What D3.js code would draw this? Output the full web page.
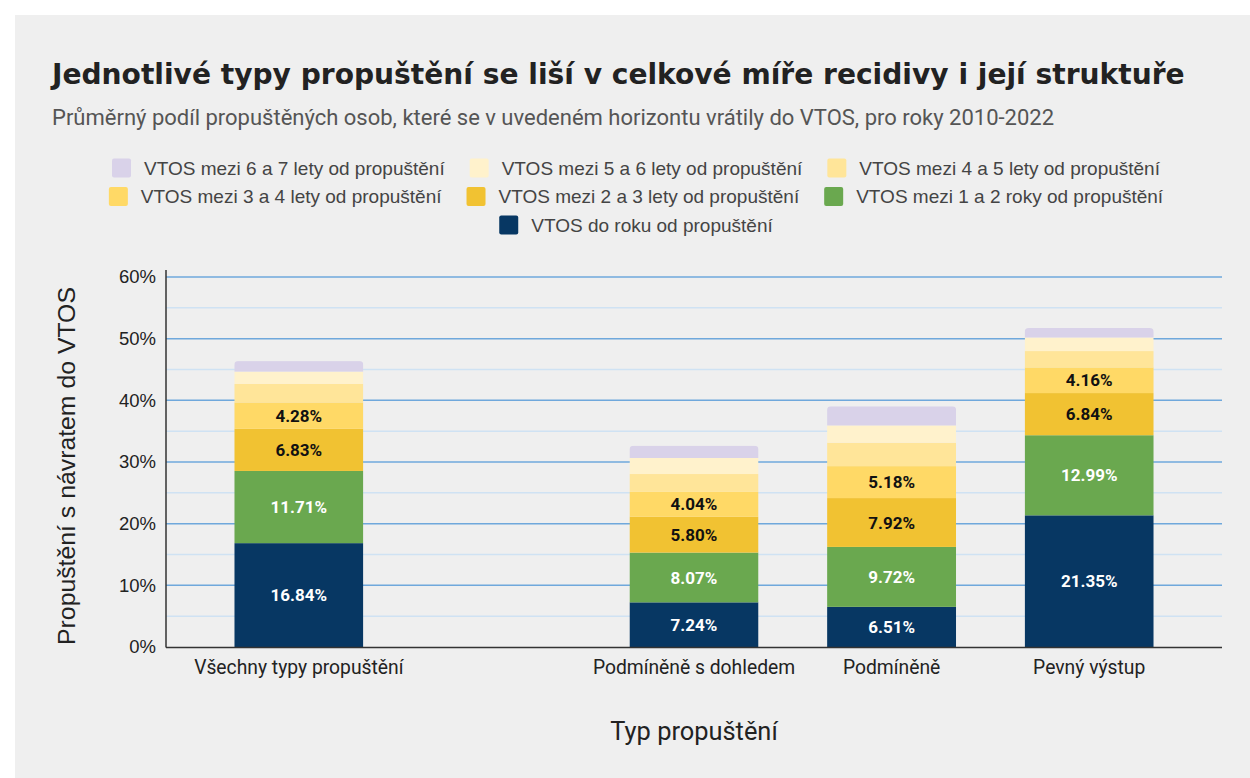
<!DOCTYPE html>
<html>
<head>
<meta charset="utf-8">
<script src="https://cdn.jsdelivr.net/npm/d3@7"></script>
<style>
  body { margin: 0; background: #fff; }
  svg { display: block; font-family: Roboto, "Noto Sans", sans-serif; }
</style>
</head>
<body>
<svg id="chart" width="1250" height="778"></svg>
<script>
// categories (the empty slot is a gap in the original chart)
const categories = ["Všechny typy propuštění", "gap", "Podmíněně s dohledem", "Podmíněně", "Pevný výstup"];
const categoryLabels = ["Všechny typy propuštění", "", "Podmíněně s dohledem", "Podmíněně", "Pevný výstup"];

// series, bottom to top
const seriesNames = [
  "VTOS do roku od propuštění",
  "VTOS mezi 1 a 2 roky od propuštění",
  "VTOS mezi 2 a 3 lety od propuštění",
  "VTOS mezi 3 a 4 lety od propuštění",
  "VTOS mezi 4 a 5 lety od propuštění",
  "VTOS mezi 5 a 6 lety od propuštění",
  "VTOS mezi 6 a 7 lety od propuštění"
];
const doRoku   = [16.84, 0, 7.24, 6.51, 21.35];
const mezi1a2  = [11.71, 0, 8.07, 9.72, 12.99];
const mezi2a3  = [6.83, 0, 5.80, 7.92, 6.84];
const mezi3a4  = [4.28, 0, 4.04, 5.18, 4.16];
const mezi4a5  = [3.0, 0, 2.9, 3.8, 2.65];
const mezi5a6  = [2.0, 0, 2.6, 2.8, 2.2];
const mezi6a7  = [1.7, 0, 2.0, 3.1, 1.55];
const seriesValues = [doRoku, mezi1a2, mezi2a3, mezi3a4, mezi4a5, mezi5a6, mezi6a7];
const labelledSeries = 4; // only the four lowest segments carry labels

const colors = ["#073763", "#6aa84f", "#f1c232", "#ffd966", "#ffe599", "#fff2cc", "#d9d2e9"];
const labelColors = ["#fff", "#fff", "#111", "#111"];

const yTicks = [0, 10, 20, 30, 40, 50, 60];
const yMinor = [5, 15, 25, 35, 45, 55];

const arial = "'Liberation Sans', Arial, sans-serif";
const svg = d3.select("#chart");

// panel
svg.append("rect").attr("x", 15).attr("y", 15).attr("width", 1235).attr("height", 763).attr("fill", "#efefef");

// titles
svg.append("text").attr("x", 52).attr("y", 84)
  .attr("font-family", "'DejaVu Sans', sans-serif")
  .attr("font-size", 28.1).attr("font-weight", 700).attr("fill", "#222")
  .text("Jednotlivé typy propuštění se liší v celkové míře recidivy i její struktuře");
svg.append("text").attr("x", 52).attr("y", 125)
  .attr("font-size", 22).attr("fill", "#555")
  .text("Průměrný podíl propuštěných osob, které se v uvedeném horizontu vrátily do VTOS, pro roky 2010-2022");

// legend, rows centered
const legendRows = [[6, 5, 4], [3, 2, 1], [0]];
const legendCenter = 636;
legendRows.forEach((row, ri) => {
  const g = svg.append("g");
  const cy = 168 + ri * 28.5;
  let x = 0;
  row.forEach((si) => {
    const item = g.append("g").attr("transform", `translate(${x},0)`);
    item.append("rect").attr("x", 0).attr("y", cy - 9.5).attr("width", 19).attr("height", 19)
      .attr("rx", 2).attr("fill", colors[si]);
    const t = item.append("text").attr("x", 32).attr("y", cy).attr("dy", "0.35em")
      .attr("font-family", arial)
      .attr("font-size", 19).attr("fill", "#444").text(seriesNames[si]);
    x += 32 + t.node().getComputedTextLength() + 25;
  });
  const w = x - 25;
  g.attr("transform", `translate(${legendCenter - w / 2},0)`);
});

// scales
const x = d3.scaleBand().domain(categories).range([200, 1188])
  .paddingInner(0.347).paddingOuter(0.1735);
const y = d3.scaleLinear().domain([0, 60]).range([647, 277]);
const plotLeft = 166, plotRight = 1222;

// gridlines
svg.append("g").selectAll("line").data(yMinor).join("line")
  .attr("x1", plotLeft).attr("x2", plotRight)
  .attr("y1", d => y(d)).attr("y2", d => y(d))
  .attr("stroke", "#cfe2f3").attr("stroke-width", 1.5);
svg.append("g").selectAll("line").data(yTicks.slice(1)).join("line")
  .attr("x1", plotLeft).attr("x2", plotRight)
  .attr("y1", d => y(d)).attr("y2", d => y(d))
  .attr("stroke", "#6fa8dc").attr("stroke-width", 1.5);

// y axis
const yAxis = svg.append("g").attr("transform", `translate(${plotLeft},0)`)
  .call(d3.axisLeft(y).tickValues(yTicks).tickFormat(d => d + "%").tickSize(0).tickPadding(10));
yAxis.select(".domain").remove();
yAxis.selectAll("text").attr("font-size", 18.5).attr("fill", "#222").attr("font-family", arial);
svg.append("line").attr("x1", plotLeft).attr("x2", plotLeft).attr("y1", 270).attr("y2", 647.5)
  .attr("stroke", "#333").attr("stroke-width", 1.5);

// stacked bars
const table = categories.map((c, i) => {
  const row = { cat: c };
  seriesNames.forEach((s, si) => row[si] = seriesValues[si][i]);
  return row;
});
const stacked = d3.stack().keys(d3.range(seriesNames.length))(table);

const defs = svg.append("defs");
categories.forEach((c, i) => {
  const top = d3.sum(seriesValues, v => v[i]);
  defs.append("clipPath").attr("id", "clip" + i)
    .append("rect").attr("x", x(c)).attr("y", y(top))
    .attr("width", x.bandwidth()).attr("height", y(0) - y(top) + 10).attr("rx", 4);
});

const barsG = svg.append("g");
stacked.forEach((layer, si) => {
  barsG.append("g").selectAll("rect").data(layer.filter(d => d[1] > d[0])).join("rect")
    .attr("clip-path", d => `url(#clip${categories.indexOf(d.data.cat)})`)
    .attr("x", d => x(d.data.cat))
    .attr("y", d => y(d[1]))
    .attr("width", x.bandwidth())
    .attr("height", d => y(d[0]) - y(d[1]))
    .attr("fill", colors[si]);
});

// segment labels
stacked.slice(0, labelledSeries).forEach((layer, si) => {
  barsG.append("g").selectAll("text").data(layer.filter(d => d[1] > d[0])).join("text")
    .attr("x", d => x(d.data.cat) + x.bandwidth() / 2)
    .attr("y", d => (y(d[0]) + y(d[1])) / 2)
    .attr("dy", "0.36em")
    .attr("text-anchor", "middle")
    .attr("font-size", 17).attr("font-weight", 700)
    .attr("fill", labelColors[si])
    .text(d => (d[1] - d[0]).toFixed(2) + "%");
});

// x axis
svg.append("line").attr("x1", plotLeft).attr("x2", plotRight).attr("y1", 647.5).attr("y2", 647.5)
  .attr("stroke", "#333").attr("stroke-width", 1.5);
const xAxis = svg.append("g").attr("transform", "translate(0,647)")
  .call(d3.axisBottom(x).tickSize(0).tickPadding(13).tickFormat((d, i) => categoryLabels[i]));
xAxis.select(".domain").remove();
xAxis.selectAll("text").attr("font-size", 19.3).attr("fill", "#222").attr("font-family", "Roboto, sans-serif");

// axis titles
svg.append("text").attr("x", (plotLeft + plotRight) / 2).attr("y", 740)
  .attr("text-anchor", "middle").attr("font-size", 25.4).attr("fill", "#222")
  .text("Typ propuštění");
svg.append("text").attr("transform", "translate(75,466) rotate(-90)")
  .attr("text-anchor", "middle").attr("font-family", arial).attr("font-size", 24.8).attr("fill", "#222")
  .text("Propuštění s návratem do VTOS");
</script>
</body>
</html>
